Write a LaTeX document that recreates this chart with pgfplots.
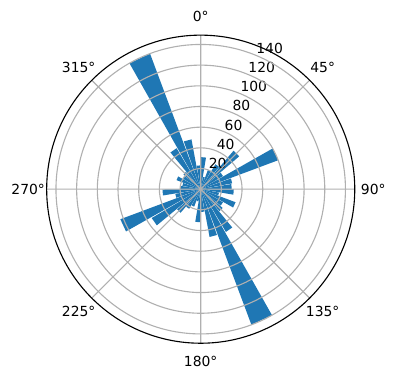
\documentclass[border=0pt]{standalone}
\usepackage{pgfplots}
\pgfplotsset{compat=1.18}
\usepgfplotslibrary{polar}
\usepackage{fontspec}
\setmainfont{DejaVu Sans}
\definecolor{barblue}{RGB}{31,119,180}
\definecolor{gridgray}{RGB}{176,176,176}
% one bar: compass centre angle (deg, clockwise from north), radius
\newcommand{\petal}[2]{%
  \pgfmathsetmacro\pa{mod(720+90-#1-4.5,360)}%
  \pgfmathsetmacro\pb{mod(720+90-#1+4.5,360)}%
  \addplot[draw=none, fill=barblue] coordinates {(0,0) (\pa,#2) (\pb,#2)};}
\tikzset{rlab/.style={anchor=south west, inner sep=0pt, yshift=1pt, font=\fontsize{10}{12}\selectfont}}
\begin{document}
\begin{tikzpicture}
\begin{polaraxis}[
  width=221.8pt, height=221.8pt, scale only axis,
  xmin=0, xmax=360, ymin=0, ymax=149,
  xtick={0,45,...,315},
  xticklabels={90°,45°,0°,315°,270°,225°,180°,135°},
  ytick={20,40,...,140},
  yticklabels={,,,,,,},
  grid=major,
  major grid style={gridgray, line width=0.8pt},
  x axis line style={black, line width=0.8pt},
  y axis line style={draw=none},
  major tick length=0pt,
  axis on top,
  clip=false,
  tick label style={font=\fontsize{10}{12}\selectfont},
  xticklabel style={anchor=center, inner sep=0pt, shift={(\tick:13.3pt)}},
]
\coordinate (c) at (axis cs:0,0);
\petal{5}{31}
\petal{15}{12}
\petal{25}{20}
\petal{35}{28}
\petal{45}{49}
\petal{55}{25}
\petal{65}{80}
\petal{75}{31}
\petal{85}{30}
\petal{95}{32}
\petal{105}{18}
\petal{115}{36}
\petal{125}{25}
\petal{135}{28}
\petal{145}{48}
\petal{155}{140}
\petal{165}{47}
\petal{175}{22}
\petal{185}{32}
\petal{195}{12}
\petal{205}{18}
\petal{215}{22}
\petal{225}{30}
\petal{235}{55}
\petal{245}{83}
\petal{255}{25}
\petal{265}{37}
\petal{275}{20}
\petal{285}{18}
\petal{295}{25}
\petal{305}{20}
\petal{315}{22}
\petal{325}{46}
\petal{335}{140}
\petal{345}{49}
\petal{355}{23}
\node[rlab] at (axis cs:67.5,20) {20};
\node[rlab] at (axis cs:67.5,40) {40};
\node[rlab] at (axis cs:67.5,60) {60};
\node[rlab] at (axis cs:67.5,80) {80};
\node[rlab] at (axis cs:67.5,100) {100};
\node[rlab] at (axis cs:67.5,120) {120};
\node[rlab] at (axis cs:67.5,140) {140};
\end{polaraxis}
\path (c) ++(-144.5pt,-137.4pt) rectangle ++(285.1pt,273.6pt);
\end{tikzpicture}
\end{document}
